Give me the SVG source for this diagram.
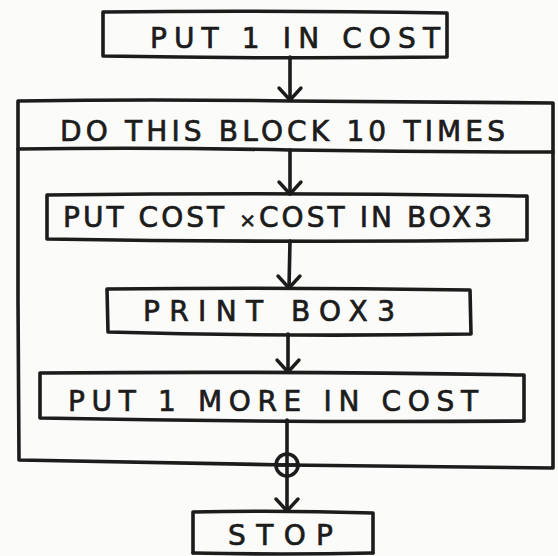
<svg xmlns="http://www.w3.org/2000/svg" width="558" height="556" viewBox="0 0 558 556">
<style>
.ln{fill:none;stroke:#1c1c1c;stroke-width:3.6;stroke-linecap:round;stroke-linejoin:round}
.tx{font-family:"DejaVu Sans","Liberation Sans",sans-serif;font-size:28px;fill:#1c1c1c;stroke:#1c1c1c;stroke-width:0.7}
</style>
<defs>
<marker id="ah" viewBox="0 0 24 16" refX="12" refY="14" markerWidth="24" markerHeight="16" markerUnits="userSpaceOnUse" orient="0" overflow="visible">
<path d="M1,2 L12,14 L23,2" fill="none" stroke="#1c1c1c" stroke-width="3.4" stroke-linecap="round" stroke-linejoin="round"/>
</marker>
</defs>
<rect width="558" height="556" fill="#fbfbfa"/>
<g id="loop">
<path class="ln" d="M18,101 Q150,99 290,101 Q420,102 553,103 L553,300 L553,468 Q420,466 287,465 Q150,463 19,460 L18,300 Z"/>
<path class="ln" d="M18,149 Q150,147 290,150 Q420,152 553,152"/>
<text class="tx" x="60" y="141" textLength="445" lengthAdjust="spacing">DO THIS BLOCK 10 TIMES</text>
</g>
<g id="n1">
<path class="ln" d="M103,12 Q270,10 447,13 L447,57 Q270,59 103,56 Z"/>
<text class="tx" x="150" y="48" textLength="290" lengthAdjust="spacing">PUT 1 IN COST</text>
</g>
<g id="n2">
<path class="ln" d="M47,195 Q290,192 527,196 L527,240 Q290,243 47,239 Z"/>
<text class="tx" x="63" y="227" textLength="429" lengthAdjust="spacing">PUT COST <tspan font-size="20">×</tspan>COST IN BOX3</text>
</g>
<g id="n3">
<path class="ln" d="M107,289 Q290,287 470,290 L471,334 Q290,337 108,332 Z"/>
<text class="tx" x="143" y="321" textLength="252" lengthAdjust="spacing">PRINT BOX3</text>
</g>
<g id="n4">
<path class="ln" d="M40,373 Q290,371 524,375 L524,421 Q290,423 40,418 Z"/>
<text class="tx" x="68" y="411" textLength="410" lengthAdjust="spacing">PUT 1 MORE IN COST</text>
</g>
<g id="stop">
<path class="ln" d="M193,512 Q280,510 373,513 L373,553 M193,553 L193,512"/>
<path class="ln" d="M193,553 Q280,555 373,553"/>
<text class="tx" x="228" y="545" textLength="105" lengthAdjust="spacing">STOP</text>
</g>
<g id="connectors">
<path class="ln" d="M290,57 L290,100" marker-end="url(#ah)"/>
<path class="ln" d="M290,150 L290,194" marker-end="url(#ah)"/>
<path class="ln" d="M290,241 L289,288" marker-end="url(#ah)"/>
<path class="ln" d="M288,334 L288,372" marker-end="url(#ah)"/>
<path class="ln" d="M287,420 L287,453"/>
<circle class="ln" cx="287" cy="465" r="11"/>
<path class="ln" d="M276,465 L298,465"/>
<path class="ln" d="M287,454 L287,511" marker-end="url(#ah)"/>
</g>
</svg>
